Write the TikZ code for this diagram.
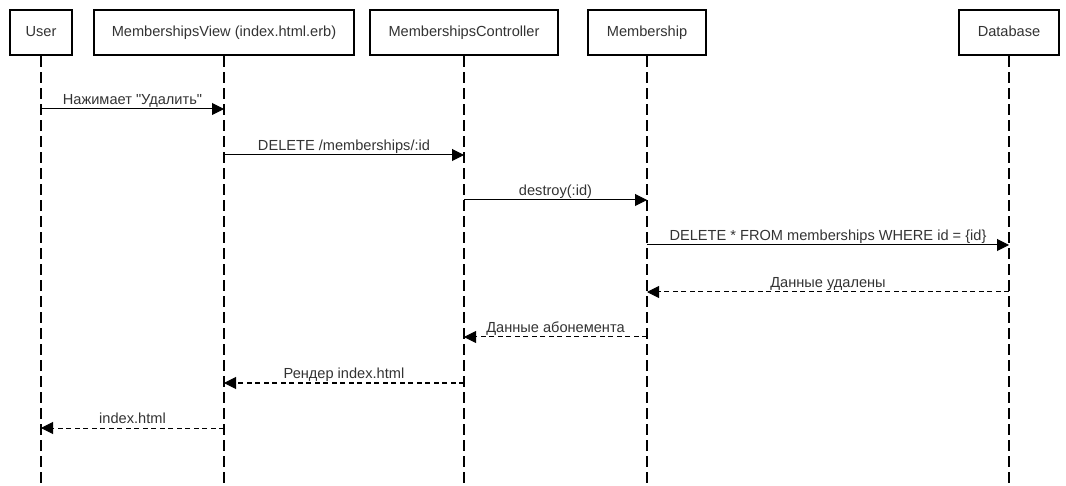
\documentclass[tikz,border=0pt]{standalone}
\usepackage{fontspec}
\setmainfont{Liberation Sans}[Ligatures=TeXOff]
\usetikzlibrary{arrows.meta,positioning}
\definecolor{seqtext}{RGB}{51,51,51}

\begin{document}
\begin{tikzpicture}[
      x=1pt,y=-1pt,
      font=\fontsize{14.6}{17}\selectfont,
      head/.style={draw=black,line width=2.2pt,fill=white,text=seqtext,inner sep=0pt,
        minimum height=45pt,text height=10.5pt,text depth=3pt},
      life/.style={line width=1.2pt,dash pattern=on 11pt off 5pt},
      call/.style={-{Triangle[length=12pt,width=12pt]},line width=1pt},
      reply/.style={-{Triangle[length=12pt,width=12pt]},line width=1pt,dash pattern=on 5pt off 3.5pt},
      lbl/.style={anchor=base,yshift=4.5pt,text=seqtext,inner sep=0pt}
    ]
      \useasboundingbox (0,0) rectangle (1066,486);

      % participants
      \node[head,minimum width=62pt] (user) at (41,32.5) {User};
      \node[head,minimum width=260pt] (view) at (224,32.5) {MembershipsView (index.html.erb)};
      \node[head,minimum width=188pt] (ctrl) at (464,32.5) {MembershipsController};
      \node[head,minimum width=118pt] (model) at (647,32.5) {Membership};
      \node[head,minimum width=100pt] (db) at (1009,32.5) {Database};

      % lifelines
      \coordinate (userend) at (41,486);
      \coordinate (viewend) at (224,486);
      \coordinate (ctrlend) at (464,486);
      \coordinate (modelend) at (647,486);
      \coordinate (dbend) at (1009,486);
      \draw[life] (user.south) -- (userend);
      \draw[life] (view.south) -- (viewend);
      \draw[life] (ctrl.south) -- (ctrlend);
      \draw[life] (model.south) -- (modelend);
      \draw[life] (db.south) -- (dbend);

      % requests
      \draw[call] (user |- 0,109) -- (view |- 0,109) node[lbl,midway] {Нажимает "Удалить"};
      \draw[call] (view |- 0,155) -- (ctrl |- 0,155) node[lbl,midway] {DELETE /memberships/:id};
      \draw[call] (ctrl |- 0,200) -- (model |- 0,200) node[lbl,midway] {destroy(:id)};
      \draw[call] (model |- 0,245) -- (db |- 0,245) node[lbl,midway] {DELETE * FROM memberships WHERE id = \{id\}};

      % responses
      \draw[reply] (db |- 0,292) -- (model |- 0,292) node[lbl,midway] {Данные удалены};
      \draw[reply] (model |- 0,337) -- (ctrl |- 0,337) node[lbl,midway] {Данные абонемента};
      \draw[reply] (ctrl |- 0,383) -- (view |- 0,383) node[lbl,midway] {Рендер index.html};
      \draw[reply] (view |- 0,428) -- (user |- 0,428) node[lbl,midway] {index.html};
    \end{tikzpicture}
\end{document}
